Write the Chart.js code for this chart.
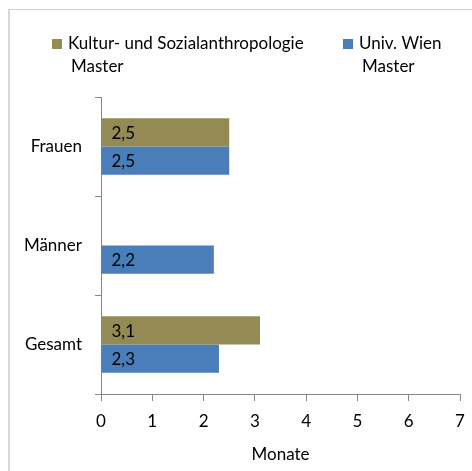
<!DOCTYPE html>
<html>
<head>
<meta charset="utf-8">
<script src="https://cdn.jsdelivr.net/npm/chart.js@4/dist/chart.umd.min.js"></script>
<style>
  html, body { margin: 0; padding: 0; background: #fff; }
  #wrap { position: relative; width: 472px; height: 471px; }
  #frame { position: absolute; left: 8px; top: 9px; right: -5px; bottom: -5px;
           border-left: 2px solid #d6d6d6; border-top: 1px solid #cfcfcf; }
  canvas { position: absolute; left: 0; top: 0; }
</style>
</head>
<body>
<div id="wrap">
  <div id="frame"></div>
  <canvas id="chart" width="472" height="471"></canvas>
</div>
<script>
  // Daten
  const categories = ['Frauen', 'Männer', 'Gesamt'];
  const seriesNames = [['Kultur- und Sozialanthropologie', 'Master'], ['Univ. Wien', 'Master']];
  const ksaMaster = [2.5, null, 3.1];
  const wienMaster = [2.5, 2.2, 2.3];
  const xTicks = [0, 1, 2, 3, 4, 5, 6, 7];
  const colors = ['#948A54', '#4A7EBB'];

  const FONT = 'Lato, Calibri, "Open Sans", sans-serif';
  const SIZE = 17;

  // Legende oben (zweizeilig) und Werte in den Balken
  const labelsPlugin = {
    id: 'labelsPlugin',
    afterDraw(chart) {
      const ctx = chart.ctx;
      ctx.save();
      ctx.font = SIZE + 'px ' + FONT;
      ctx.fillStyle = '#000';
      ctx.textBaseline = 'middle';
      ctx.textAlign = 'left';

      const legendX = [52, 343];
      chart.data.datasets.forEach((ds, i) => {
        ctx.fillStyle = ds.backgroundColor;
        ctx.fillRect(legendX[i], 39, 10, 10);
        ctx.fillStyle = '#000';
        ds.legendLines.forEach((line, j) => {
          ctx.fillText(line, legendX[i] + 16 + (j > 0 ? 3 : 0), 44 + j * 23);
        });
      });

      chart.data.datasets.forEach((ds, i) => {
        const meta = chart.getDatasetMeta(i);
        meta.data.forEach((bar, k) => {
          const v = ds.data[k];
          if (v == null) return;
          ctx.fillText(v.toFixed(1).replace('.', ','), bar.base + 10, bar.y + 1);
        });
      });
      ctx.restore();
    }
  };

  const ctx = document.getElementById('chart').getContext('2d');
  new Chart(ctx, {
    type: 'bar',
    data: {
      labels: categories,
      datasets: [
        {
          label: seriesNames[0].join(' '),
          legendLines: seriesNames[0],
          data: ksaMaster,
          backgroundColor: colors[0],
          barPercentage: 1,
          categoryPercentage: 0.57
        },
        {
          label: seriesNames[1].join(' '),
          legendLines: seriesNames[1],
          data: wienMaster,
          backgroundColor: colors[1],
          barPercentage: 1,
          categoryPercentage: 0.57
        }
      ]
    },
    options: {
      indexAxis: 'y',
      responsive: false,
      animation: false,
      layout: { padding: { left: 0, right: 12, top: 97, bottom: 0 } },
      plugins: {
        legend: { display: false },
        tooltip: { enabled: false }
      },
      scales: {
        x: {
          min: 0,
          max: 7,
          afterBuildTicks: scale => { scale.ticks = xTicks.map(v => ({ value: v })); },
          afterFit: scale => { scale.height = 77; scale.paddingLeft = 0; scale.paddingRight = 0; },
          border: { color: '#868686', width: 1 },
          grid: { drawOnChartArea: false, drawTicks: true, tickLength: 7, color: '#868686' },
          ticks: { color: '#000', font: { family: FONT, size: SIZE }, padding: 10, maxRotation: 0 },
          title: { display: true, text: 'Monate', color: '#000', font: { family: FONT, size: SIZE }, padding: { top: 0, bottom: 6 } }
        },
        y: {
          afterFit: scale => { scale.width = 101; scale.paddingTop = 0; scale.paddingBottom = 0; },
          border: { color: '#868686', width: 1 },
          grid: { drawOnChartArea: false, drawTicks: true, tickLength: 6, color: '#868686', offset: true },
          ticks: { color: '#000', font: { family: FONT, size: SIZE }, padding: 13 }
        }
      }
    },
    plugins: [labelsPlugin]
  });
</script>
</body>
</html>
